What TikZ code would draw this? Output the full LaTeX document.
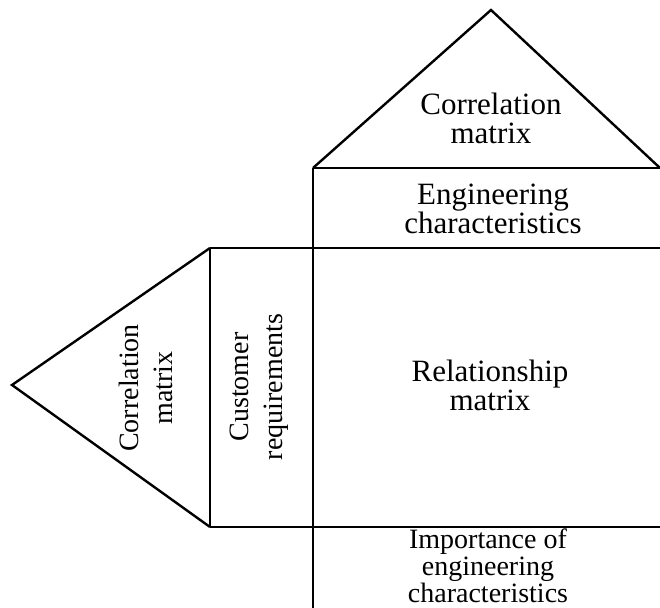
\documentclass[tikz,border=0pt]{standalone}
\usepackage{fontspec}
\setmainfont{Liberation Serif}
\tikzset{
  part/.style={line width=1.2pt},
  label/.style={align=center, font=\fontsize{15.5}{14.5}\selectfont, inner sep=0pt},
  sidelabel/.style={align=center, font=\fontsize{14}{17}\selectfont, inner sep=0pt, rotate=90}
}
\begin{document}
\begin{tikzpicture}[x=0.5pt, y=-0.5pt]
	\useasboundingbox (0,0) rectangle (660,608);
	% roof
	\draw[part] (313,168) -- (491,10) -- (660,168);
	\draw[part] (313,168) -- (660,168);
	% rows and columns
	\draw[part] (210,248) -- (660,248);
	\draw[part] (210,527) -- (660,527);
	\draw[part] (313,168) -- (313,608);
	\draw[part] (210,248) -- (210,527);
	% left roof
	\draw[part] (210,248) -- (12,385) -- (210,527);
	
	\node[label] (roof) at (491,118) {Correlation\\matrix};
	\node[label] (eng) at (493,209) {Engineering\\characteristics};
	\node[label] (rel) at (490,385) {Relationship\\matrix};
	\node[label, font=\fontsize{14}{11}\selectfont] (imp) at (488,566) {Importance of\\engineering\\characteristics};
	\node[sidelabel] (side) at (146,388) {Correlation\\matrix};
	\node[sidelabel] (cust) at (259,387) {Customer\\requirements};
\end{tikzpicture}
\end{document}
